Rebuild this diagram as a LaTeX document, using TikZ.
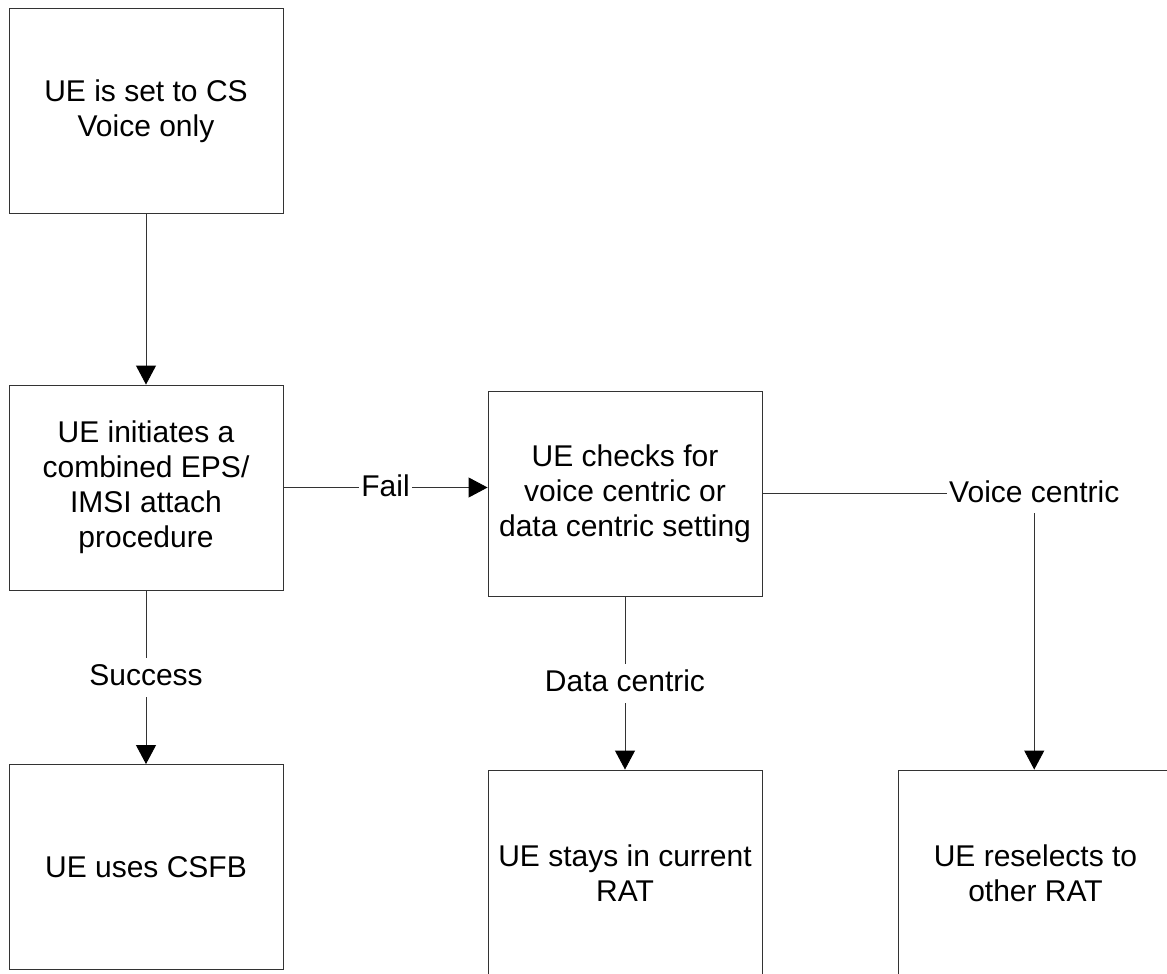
\documentclass[tikz,border=0pt]{standalone}
\usepackage{fontspec}
\setmainfont{Liberation Sans}
\usetikzlibrary{arrows.meta}
\begin{document}
\begin{tikzpicture}[x=1pt,y=-1pt,
  box/.style={draw=black!80, line width=0.9pt, minimum width=274pt, minimum height=205pt,
    align=center, font=\fontsize{30}{35}\selectfont, inner sep=0pt},
  lbl/.style={fill=white, font=\fontsize{30}{35}\selectfont, inner xsep=2pt, inner ysep=3pt,
    text height=25pt, text depth=8pt},
  conn/.style={draw=black!80, line width=0.9pt},
  arr/.style={conn, -{Triangle[length=19pt,width=20pt,color=black,fill=black]}}]
\useasboundingbox (0,0) rectangle (1167,974);
\clip (0,0) rectangle (1167,974);
\fill[white] (0,0) rectangle (1167,974);

\node[box] (b1) at (146,111) {UE is set to CS\\Voice only};
\node[box] (b2) at (146,487.5) {UE initiates a\\combined EPS/\\IMSI attach\\procedure};
\node[box] (b3) at (625,493.5) {UE checks for\\voice centric or\\data centric setting};
\node[box] (b4) at (146,867) {UE uses CSFB};
\node[box, minimum height=206pt] (b5) at (625,873) {UE stays in current\\RAT};
\node[box, minimum width=275pt, minimum height=206pt] (b6) at (1035.5,873) {UE reselects to\\other RAT};

\draw[arr] (b1) -- (b2);
\draw[arr] (b2) -- node[lbl] {Success} (b4);
\draw[arr] (b2.east) -- node[lbl] {Fail} (b2.east -| b3.west);
\draw[arr] (b3) -- node[lbl] {Data centric} (b5);
\node[lbl, anchor=west] (vc) at (947,493.5) {Voice centric};
\draw[conn] (b3.east) -- (vc.west);
\draw[arr] (vc.south) -- (vc.south |- b6.north);
\end{tikzpicture}
\end{document}
